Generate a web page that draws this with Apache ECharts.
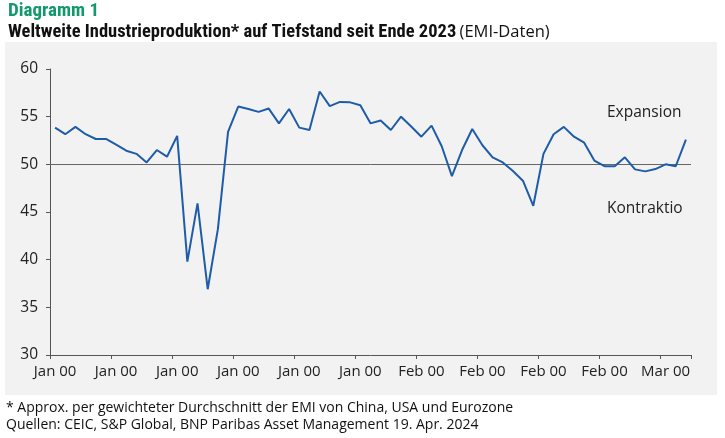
<!DOCTYPE html>
<html>
<head>
<meta charset="utf-8">
<script src="https://cdn.jsdelivr.net/npm/echarts@6/dist/echarts.min.js"></script>
<style>
html,body{margin:0;padding:0;background:#fff;}
#c{width:725px;height:438px;}
</style>
</head>
<body>
<div id="c"></div>
<script>
var categories = [
'2019-01','2019-02','2019-03','2019-04','2019-05','2019-06','2019-07','2019-08','2019-09','2019-10','2019-11','2019-12',
'2020-01','2020-02','2020-03','2020-04','2020-05','2020-06','2020-07','2020-08','2020-09','2020-10','2020-11','2020-12',
'2021-01','2021-02','2021-03','2021-04','2021-05','2021-06','2021-07','2021-08','2021-09','2021-10','2021-11','2021-12',
'2022-01','2022-02','2022-03','2022-04','2022-05','2022-06','2022-07','2022-08','2022-09','2022-10','2022-11','2022-12',
'2023-01','2023-02','2023-03','2023-04','2023-05','2023-06','2023-07','2023-08','2023-09','2023-10','2023-11','2023-12',
'2024-01','2024-02','2024-03'
];
var emiValues = [
53.85,53.16,53.93,53.16,52.66,52.66,52.06,51.43,51.1,50.2,51.5,50.8,
52.98,39.8,45.9,36.9,43.2,53.4,56.06,55.8,55.5,55.85,54.3,55.8,
53.85,53.6,57.64,56.1,56.55,56.5,56.2,54.3,54.6,53.6,55.0,53.96,
52.9,54.06,51.9,48.77,51.5,53.7,52.0,50.74,50.2,49.3,48.25,45.65,
51.1,53.16,53.93,52.9,52.27,50.4,49.8,49.8,50.74,49.47,49.26,49.5,
50.0,49.8,52.6
];
var tickLabels = ['Jan 00','Jan 00','Jan 00','Jan 00','Jan 00','Jan 00','Feb 00','Feb 00','Feb 00','Feb 00','Mar 00'];
var yTicks = [30,35,40,45,50,55,60];
var threshold = 50;

var chart = echarts.init(document.getElementById('c'), null, {renderer:'canvas'});
var baseFont = '"Open Sans", "Noto Sans", sans-serif';
var titleFont = '"Liberation Sans Narrow", "Roboto Condensed", Roboto, sans-serif';
chart.setOption({
  animation:false,
  backgroundColor:'#ffffff',
  graphic:[
    {type:'rect', z:-10, shape:{x:5,y:42,width:712,height:353}, style:{fill:'#f2f2f2'}},
    {type:'text', left:8, top:2, style:{text:'Diagramm 1', fill:'#12996b', font:'bold 19px '+titleFont}},
    {type:'text', left:8, top:23, style:{
      text:'{b|Weltweite Industrieproduktion* auf Tiefstand seit Ende 2023} {n|(EMI-Daten)}',
      rich:{
        b:{fontFamily:titleFont, fontWeight:'bold', fontSize:18.5, fill:'#111'},
        n:{fontFamily:baseFont, fontWeight:'normal', fontSize:16.5, fill:'#111'}
      }}},
    {type:'text', left:607, top:105, style:{text:'Expansion', fill:'#222', font:'15.5px '+baseFont}},
    {type:'text', left:607, top:201, style:{text:'Kontraktio', fill:'#222', font:'15.5px '+baseFont}},
    {type:'text', left:6, top:401, style:{text:'* Approx. per gewichteter Durchschnitt der EMI von China, USA und Eurozone', fill:'#111', font:'14px '+baseFont}},
    {type:'text', left:6, top:418, style:{text:'Quellen: CEIC, S&P Global, BNP Paribas Asset Management 19. Apr. 2024', fill:'#111', font:'14px '+baseFont}}
  ],
  grid:{left:50, right:34, top:69, bottom:83, containLabel:false},
  xAxis:{
    type:'category', data:categories, boundaryGap:true,
    axisLine:{show:true, lineStyle:{color:'#555', width:1}},
    axisTick:{show:true, interval:5, length:4, lineStyle:{color:'#555'}},
    axisLabel:{interval:5, margin:9, color:'#222', fontSize:15, fontFamily:baseFont,
      formatter:function(v, i){ var k = i/6; return (k === Math.floor(k) && tickLabels[k]) ? tickLabels[k] : ''; }},
    splitLine:{show:false}
  },
  yAxis:{
    type:'value', min:yTicks[0], max:yTicks[yTicks.length-1], interval:5,
    axisLine:{show:true, lineStyle:{color:'#555', width:1}},
    axisTick:{show:true, length:4, lineStyle:{color:'#555'}},
    axisLabel:{margin:12, color:'#222', fontSize:15.5, fontFamily:baseFont},
    splitLine:{show:false}
  },
  series:[{
    type:'line', data:emiValues, symbol:'none', smooth:false,
    lineStyle:{color:'#1e5ca8', width:2},
    z:5,
    markLine:{
      silent:true, symbol:['none','none'], label:{show:false},
      lineStyle:{color:'#666', width:1, type:'solid'},
      data:[{yAxis:threshold}]
    }
  }]
});
</script>
</body>
</html>
